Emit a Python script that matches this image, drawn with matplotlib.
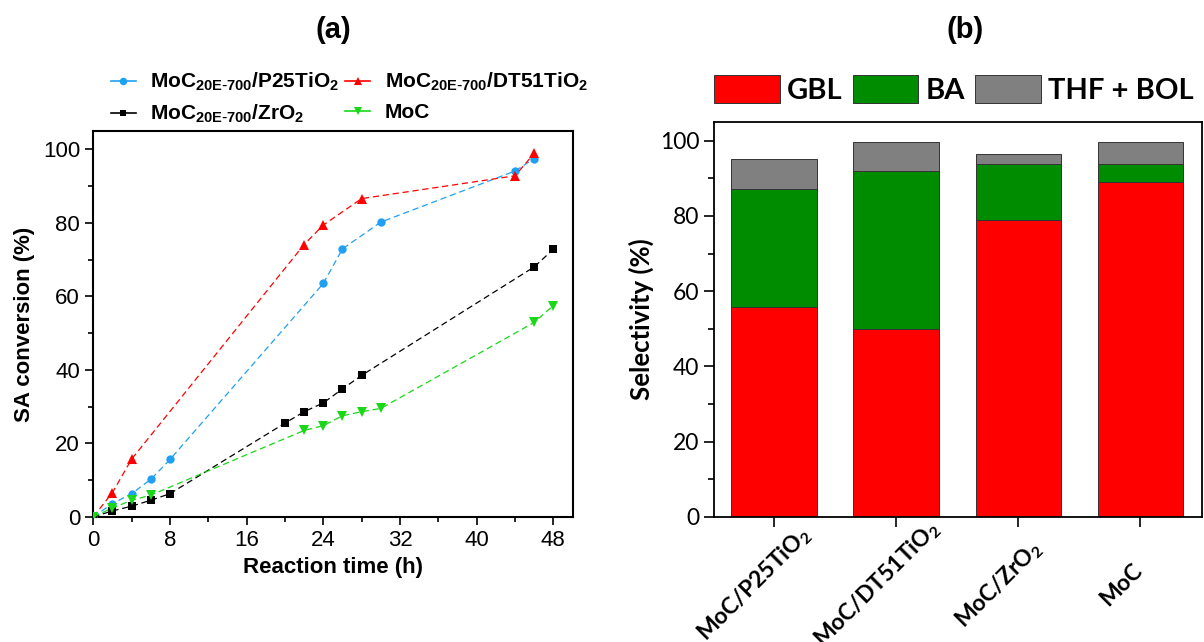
import numpy as np
import matplotlib
matplotlib.use('Agg')
import matplotlib.pyplot as plt
from matplotlib.lines import Line2D
from matplotlib.ticker import MultipleLocator
from matplotlib import transforms

plt.rcParams['mathtext.default'] = 'regular'

# Conversion of SA vs reaction time (h, %)
time_p25 = [0, 2, 4, 6, 8, 24, 26, 30, 44, 46]
conv_p25 = [0, 3.6, 6.3, 10.2, 15.6, 63.5, 72.9, 80.2, 94.1, 97.5]
time_dt51 = [0, 2, 4, 22, 24, 28, 44, 46]
conv_dt51 = [0, 6.6, 15.7, 74.1, 79.4, 86.6, 92.8, 98.9]
time_zro2 = [0, 2, 4, 6, 8, 20, 22, 24, 26, 28, 46, 48]
conv_zro2 = [0, 1.6, 2.9, 4.5, 6.3, 25.5, 28.6, 31.0, 34.8, 38.5, 68.0, 72.8]
time_moc = [0, 2, 4, 6, 22, 24, 26, 28, 30, 46, 48]
conv_moc = [0, 2.4, 4.5, 5.9, 23.5, 24.8, 27.5, 28.6, 29.5, 52.9, 57.5]

# Product selectivity (%)
catalysts = ['MoC/P25TiO$_2$', 'MoC/DT51TiO$_2$', 'MoC/ZrO$_2$', 'MoC']
gbl = [55.8, 50.0, 78.9, 89.0]
ba = [31.4, 41.9, 15.0, 4.9]
thf_bol = [8.0, 7.9, 2.6, 5.9]

arial = 'Liberation Sans'
calibri = 'Lato'

fig = plt.figure(figsize=(12.04, 6.42), dpi=100)

# ---- (a) conversion curves
ax1 = fig.add_axes([0.0775, 0.195, 0.398, 0.601])
series = [
    (time_p25, conv_p25, '#1FA0F2', 'o', 6.0, r'MoC$_{20E\text{-}700}$/P25TiO$_2$'),
    (time_zro2, conv_zro2, 'black', 's', 5.5, r'MoC$_{20E\text{-}700}$/ZrO$_2$'),
    (time_dt51, conv_dt51, '#FF0000', '^', 7.0, r'MoC$_{20E\text{-}700}$/DT51TiO$_2$'),
    (time_moc, conv_moc, '#18D818', 'v', 7.0, 'MoC'),
]
handles = []
for t, c, col, mk, ms, lab in series:
    ax1.plot(t, c, linestyle=(0, (5, 3)), lw=0.9, color=col, marker=mk, ms=ms,
             markeredgewidth=0, zorder=3)
    handles.append(Line2D([], [], color=col, lw=1.2, marker=mk, ms=ms * 0.9,
                          markeredgewidth=0, label=lab))

ax1.set_xlim(0, 50)
ax1.set_ylim(0, 105)
ax1.xaxis.set_major_locator(MultipleLocator(8))
ax1.xaxis.set_minor_locator(MultipleLocator(4))
ax1.yaxis.set_major_locator(MultipleLocator(20))
ax1.yaxis.set_minor_locator(MultipleLocator(10))
ax1.tick_params(which='major', direction='out', length=6, width=1.2, labelsize=16)
ax1.tick_params(which='minor', direction='out', length=3.5, width=1.2)
for lbl in ax1.get_xticklabels() + ax1.get_yticklabels():
    lbl.set_family(arial)
for sp in ax1.spines.values():
    sp.set_linewidth(1.5)
ax1.set_xlabel('Reaction time (h)', fontsize=16, fontweight='bold', family=arial, labelpad=4)
ax1.set_ylabel('SA conversion (%)', fontsize=16, fontweight='bold', family=arial, labelpad=6)
ax1.legend(handles=handles, ncol=2, loc='upper left', bbox_to_anchor=(0.036, 1.155),
           frameon=False, handlelength=1.2, handletextpad=0.7, columnspacing=0.3,
           labelspacing=0.45, borderpad=0, borderaxespad=0,
           prop={'family': arial, 'weight': 'bold', 'size': 15})
fig.text(333 / 1204, 1 - 30 / 642, '(a)', ha='center', va='center',
         fontsize=21, fontweight='bold', family=arial)

# ---- (b) selectivity bars
ax2 = fig.add_axes([0.593, 0.195, 0.405, 0.615])
x = np.arange(len(catalysts))
w = 0.7
gbl_arr = np.array(gbl)
ba_arr = np.array(ba)
ax2.bar(x, gbl_arr, w, color='#FF0000', edgecolor='#333333', lw=0.7, label='GBL')
ax2.bar(x, ba_arr, w, bottom=gbl_arr, color='#008C00', edgecolor='#333333', lw=0.7, label='BA')
ax2.bar(x, thf_bol, w, bottom=gbl_arr + ba_arr, color='#808080', edgecolor='#333333',
        lw=0.7, label='THF + BOL')

ax2.set_xlim(-0.49, 3.5)
ax2.set_ylim(0, 105)
ax2.yaxis.set_major_locator(MultipleLocator(20))
ax2.yaxis.set_minor_locator(MultipleLocator(10))
ax2.tick_params(which='major', direction='out', length=7, width=1.2, labelsize=16.5)
ax2.tick_params(which='minor', direction='out', length=4, width=1.2)
ax2.set_xticks(x)
ax2.set_xticklabels(catalysts, rotation=45, ha='center', va='center',
                    rotation_mode='anchor', fontsize=16.5, fontweight='bold', family=calibri)
# centre of each rotated label sits below and a little left of its tick
shift = transforms.ScaledTranslation(-19 / 100, -53 / 100, fig.dpi_scale_trans)
for lbl in ax2.get_xticklabels():
    lbl.set_transform(lbl.get_transform() + shift)
for lbl in ax2.get_yticklabels():
    lbl.set_family(calibri)
for sp in ax2.spines.values():
    sp.set_linewidth(1.3)
ax2.set_ylabel('Selectivity (%)', fontsize=18.5, fontweight='bold', family=calibri, labelpad=4)
ax2.legend(ncol=3, loc='lower left', bbox_to_anchor=(0.0, 1.045), frameon=False,
           handlelength=2.25, handleheight=1.1, handletextpad=0.25, columnspacing=0.35,
           borderpad=0, borderaxespad=0,
           prop={'family': calibri, 'weight': 'bold', 'size': 21})
fig.text(965 / 1204, 1 - 30 / 642, '(b)', ha='center', va='center',
         fontsize=21, fontweight='bold', family=arial)

fig.savefig('out.png', dpi=100)
